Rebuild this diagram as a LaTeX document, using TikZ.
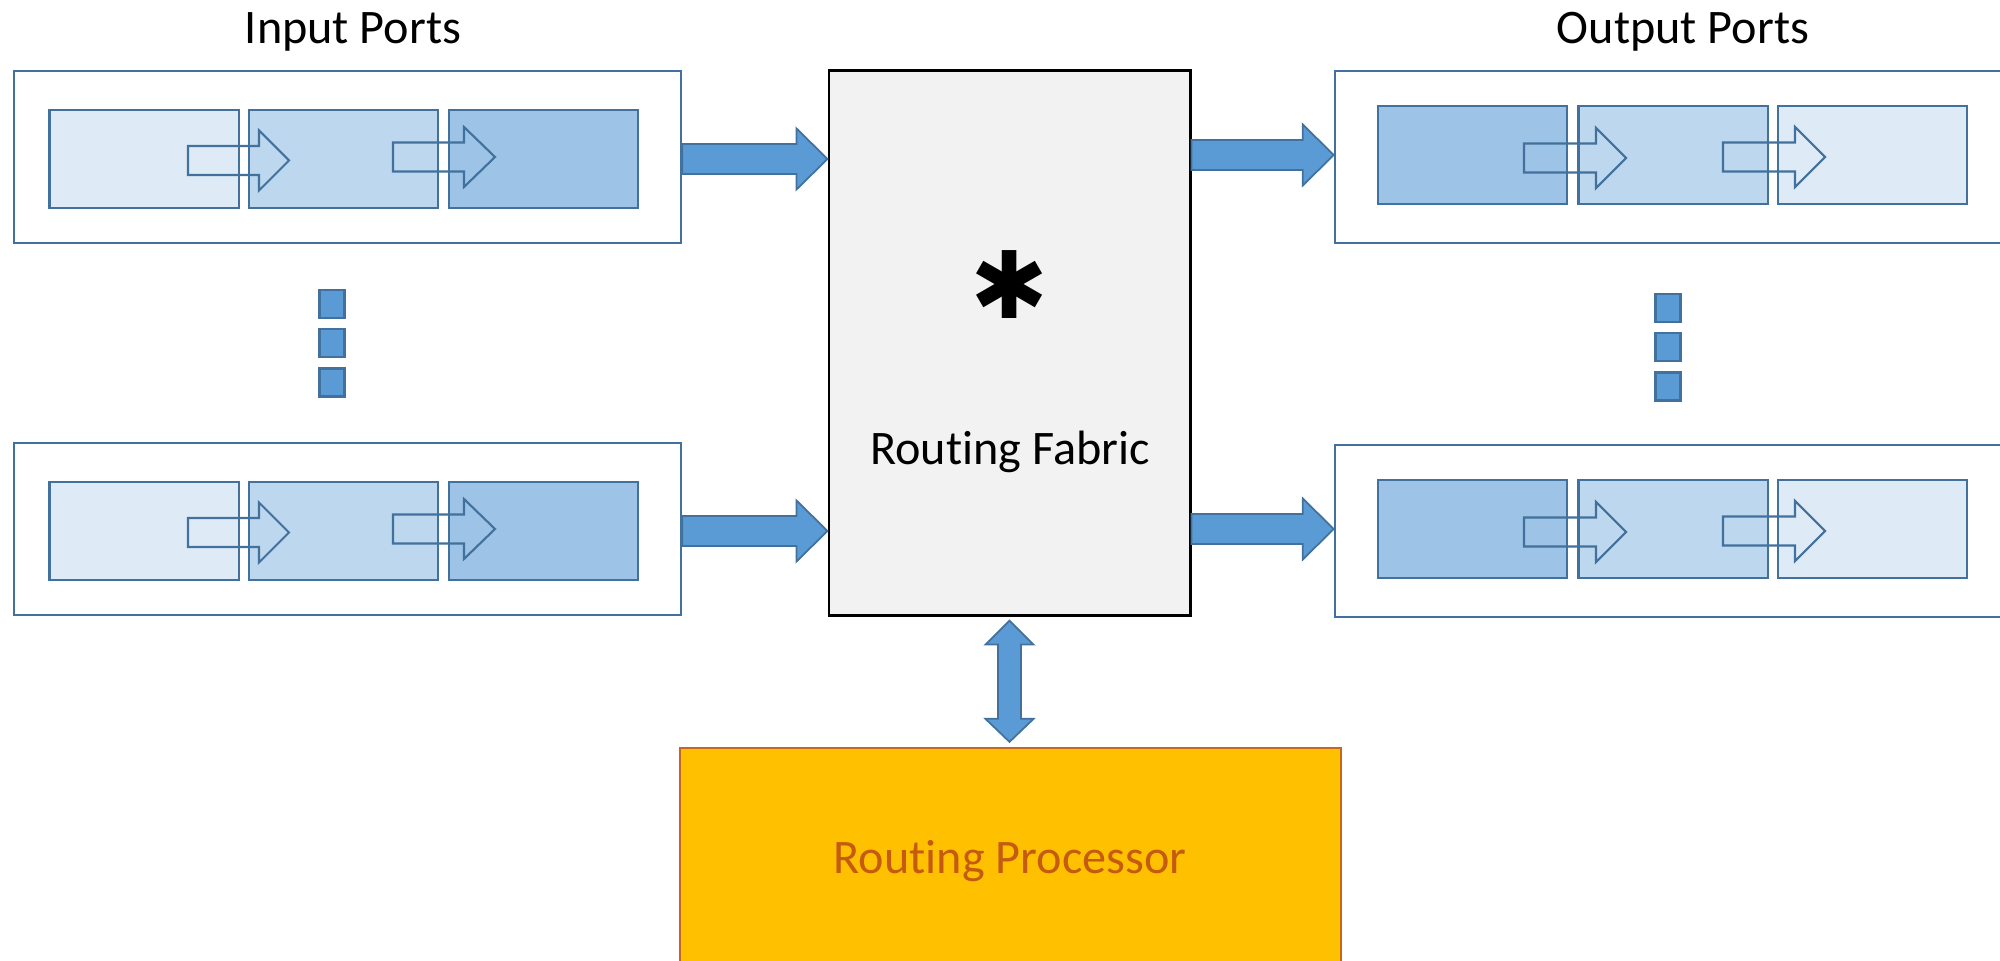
\documentclass[tikz,border=0pt]{standalone}
\usepackage{fontspec}
\setmainfont{Carlito}[Ligatures=NoCommon]
\newfontfamily\symfont{DejaVu Sans}
\usetikzlibrary{calc}
\definecolor{edgeblue}{HTML}{41719C}
\definecolor{arrowblue}{HTML}{5B9BD5}
\definecolor{qlight}{HTML}{DEEBF7}
\definecolor{qmid}{HTML}{BDD7EE}
\definecolor{qdark}{HTML}{9DC3E6}
\definecolor{fabricgray}{HTML}{F2F2F2}
\definecolor{procgold}{HTML}{FFC000}
\definecolor{procedge}{HTML}{C8661E}
\definecolor{proctext}{HTML}{C55A11}

% horizontal block arrow from the x of #1 to the x of #2, at the height of #3
\newcommand\fatarrow[3]{%
  \draw[fat] let \p1=#1, \p2=#2, \p3=#3 in
    (\x1,\y3+1.5mm) -- (\x2-3.1mm,\y3+1.5mm) -- (\x2-3.1mm,\y3+3.05mm) --
    (\x2,\y3) -- (\x2-3.1mm,\y3-3.05mm) -- (\x2-3.1mm,\y3-1.5mm) --
    (\x1,\y3-1.5mm) -- cycle;}
% hollow arrow between queue cells: shaft start, head base, tip, centre line
\newcommand\qarrow[4]{%
  \draw[hollow] (#1,#4-14.5) -- (#2,#4-14.5) -- (#2,#4-30) -- (#3,#4) --
    (#2,#4+30) -- (#2,#4+14.5) -- (#1,#4+14.5) -- cycle;}

\begin{document}
\begin{tikzpicture}[x=0.01cm,y=-0.01cm,
  lbl/.style={font=\fontsize{13.7}{16}\selectfont, inner sep=0},
  portbox/.style={draw=edgeblue, line width=0.6pt, fill=white, inner sep=0,
    minimum width=6.67cm, minimum height=1.72cm},
  qbox/.style={draw=edgeblue, line width=0.6pt, inner sep=0,
    minimum width=1.89cm, minimum height=0.98cm},
  qa/.style={qbox, fill=qlight},
  qb/.style={qbox, fill=qmid},
  qc/.style={qbox, fill=qdark},
  hollow/.style={draw=edgeblue, line width=0.6pt},
  fat/.style={fill=arrowblue, draw=edgeblue, line width=0.5pt},
  dotbox/.style={draw=edgeblue, fill=arrowblue, line width=0.8pt, inner sep=0,
    minimum width=0.25cm, minimum height=0.28cm},
  fabricbox/.style={draw=black, fill=fabricgray, line width=0.8pt, inner sep=0,
    minimum width=3.61cm, minimum height=5.44cm},
  procbox/.style={draw=procedge, fill=procgold, line width=0.6pt, inner sep=0,
    minimum width=6.61cm, minimum height=2.2cm}]
\useasboundingbox (0,0) rectangle (2000,961);

% titles
\node[lbl, anchor=base] (intitle) at (353,44) {Input Ports};
\node[lbl, anchor=base] (outtitle) at (1683,44) {Output Ports};

% input port, upper
\node[portbox] (in1) at (347.5,157) {};
\node[qa] (in1a) at (144,159) {};
\node[qb] (in1b) at (343.5,159) {};
\node[qc] (in1c) at (543.5,159) {};
\qarrow{188}{259}{289}{160.5}
\qarrow{393}{464}{495}{157}

% input port, lower
\node[portbox] (in2) at (347.5,529) {};
\node[qa] (in2a) at (144,531) {};
\node[qb] (in2b) at (343.5,531) {};
\node[qc] (in2c) at (543.5,531) {};
\qarrow{188}{259}{289}{532.5}
\qarrow{393}{464}{495}{529}

% ellipsis between input ports
\node[dotbox] (ind1) at (332,304) {};
\node[dotbox] (ind2) at (332,343) {};
\node[dotbox] (ind3) at (332,382.5) {};

% output port, upper
\node[portbox, minimum width=6.75cm] (out1) at (1672.5,157) {};
\node[qc] (out1a) at (1472.5,155) {};
\node[qb] (out1b) at (1673,155) {};
\node[qa] (out1c) at (1872.5,155) {};
\qarrow{1524}{1596}{1626}{158}
\qarrow{1723}{1795}{1825}{157}

% output port, lower
\node[portbox, minimum width=6.75cm] (out2) at (1672.5,531) {};
\node[qc] (out2a) at (1472.5,529) {};
\node[qb] (out2b) at (1673,529) {};
\node[qa] (out2c) at (1872.5,529) {};
\qarrow{1524}{1596}{1626}{532}
\qarrow{1723}{1795}{1825}{531}

% ellipsis between output ports
\node[dotbox] (outd1) at (1668,308) {};
\node[dotbox] (outd2) at (1668,347) {};
\node[dotbox] (outd3) at (1668,386.5) {};

% switching fabric
\node[fabricbox] (fab) at (1009.5,343) {};
\node[inner sep=0, anchor=center, font=\fontsize{26.5}{28}\symfont] (star) at (1010,285) {✱};
\node[lbl, anchor=base] (fablabel) at (1010,465) {Routing Fabric};

% routing processor
\node[procbox] (proc) at (1010.5,858) {};
\node[lbl, anchor=base, text=proctext] (proclabel) at (1010,873) {Routing Processor};

% block arrows into and out of the fabric
\fatarrow{(in1.east)}{(fab.west)}{(in1a.center)}
\fatarrow{(in2.east)}{(fab.west)}{(in2a.center)}
\fatarrow{(fab.east)}{(out1.west)}{(out1a.center)}
\fatarrow{(fab.east)}{(out2.west)}{(out2a.center)}

% two-way link between fabric and processor
\draw[fat] let \p1=(fab.south), \p2=(proc.north) in
  (\x1,\y1-0.4mm) -- (\x1+2.4mm,\y1-2.8mm) -- (\x1+1.15mm,\y1-2.8mm) --
  (\x1+1.15mm,\y2+2.8mm) -- (\x1+2.4mm,\y2+2.8mm) -- (\x1,\y2+0.5mm) --
  (\x1-2.4mm,\y2+2.8mm) -- (\x1-1.15mm,\y2+2.8mm) -- (\x1-1.15mm,\y1-2.8mm) --
  (\x1-2.4mm,\y1-2.8mm) -- cycle;
\end{tikzpicture}
\end{document}
